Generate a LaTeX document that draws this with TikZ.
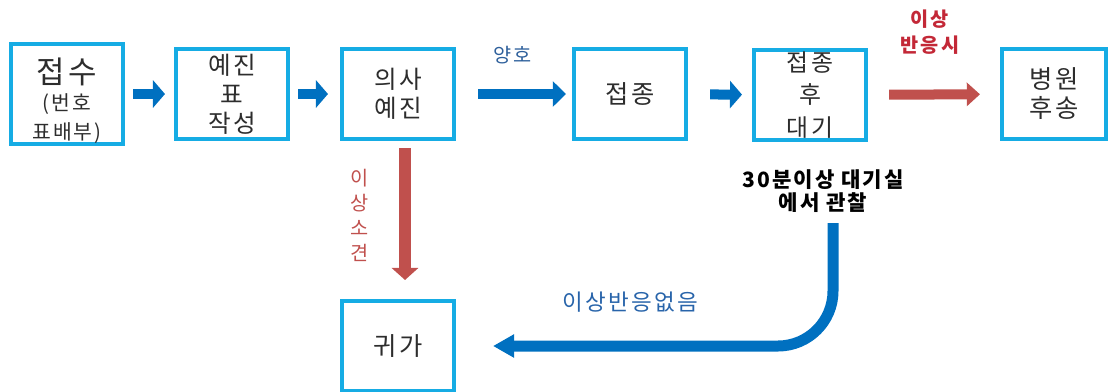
\documentclass[tikz,border=0pt]{standalone}
\usepackage{fontspec}
\setmainfont{Noto Sans CJK KR}
\newfontfamily\boxfont[LetterSpace=10]{Noto Sans CJK KR}
\newfontfamily\lblfont[LetterSpace=10]{Noto Sans CJK KR}
\usetikzlibrary{arrows.meta}
\definecolor{boxblue}{RGB}{22,172,228}
\definecolor{flowblue}{RGB}{0,112,192}
\definecolor{flowred}{RGB}{192,80,77}
\definecolor{okblue}{RGB}{45,95,155}
\definecolor{alertred}{RGB}{195,40,55}
\definecolor{noneblue}{RGB}{40,100,170}
\definecolor{boxtext}{RGB}{45,45,45}
\newcommand{\smalltxt}{\fontsize{14.5}{17}\selectfont}

\begin{document}
\begin{tikzpicture}[x=0.025cm,y=-0.025cm]
\tikzstyle{stage}=[draw=boxblue,line width=0.1cm,minimum width=2.8cm,minimum height=2.25cm,inner sep=0pt,align=center,text=boxtext,font=\boxfont\fontsize{17.5}{20.5}\selectfont]
\tikzstyle{flow}=[line width=0.25cm,-{Triangle[length=0.3cm,width=0.675cm]}]
\tikzstyle{lbl}=[inner sep=0pt,align=center]
\useasboundingbox (0,0) rectangle (1110,391);

\node[stage] (recv) at (67,94) {\rule{0pt}{28pt}\fontsize{22}{24}\selectfont 접수\\[-1pt]
  \smalltxt (번호\\\smalltxt 표배부)};
\node[stage] (form) at (232,94) {예진\\표\\작성};
\node[stage] (exam) at (398,94) {의사\\예진};
\node[stage,font=\boxfont\fontsize{18}{20}\selectfont] (shot) at (630,94) {접종};
\node[stage,font=\boxfont\fontsize{17}{23}\selectfont] (wait) at (810,95) {접종\\후\\대기};
\node[stage,minimum width=2.6cm,font=\boxfont\fontsize{18}{20.6}\selectfont] (hosp) at (1054,94) {병원\\후송};
\node[stage,font=\boxfont\fontsize{18}{20}\selectfont] (home) at (398,346) {귀가};

\draw[flow,flowblue,shorten <=0.2cm,shorten >=0.225cm] (recv) -- (form);
\draw[flow,flowblue,shorten <=0.2cm,shorten >=0.3cm] (form) -- (exam);
\draw[flow,flowblue,-{Triangle[length=0.33cm,width=0.625cm]},shorten <=0.55cm,shorten >=0.15cm] (exam) -- (shot);
\draw[flow,flowblue,shorten <=0.55cm,shorten >=0.25cm] (shot) -- (wait);
\draw[flow,flowred,-{Triangle[length=0.33cm,width=0.575cm]},shorten <=0.525cm,shorten >=0.5cm] (wait) -- (hosp);
\draw[flow,flowred,line width=0.3cm,-{Triangle[length=0.3cm,width=0.65cm]},shorten <=0.175cm,shorten >=0.475cm]
  ([xshift=0.175cm]exam.south) -- ([xshift=0.175cm]home.north);

\node[lbl,text=okblue,font=\lblfont\fontsize{14}{16}\selectfont] (ok) at (513,55) {양호};
\node[lbl,text=alertred,font=\lblfont\bfseries\fontsize{14}{18}\selectfont] (react) at (930,32) {이상\\반응시};
\node[lbl,text=flowred,font=\lblfont\fontsize{14}{17.8}\selectfont] (abn) at (360,215) {이\\상\\소\\견};
\node[lbl,font=\lblfont\bfseries\fontsize{15}{16.5}\selectfont] (obs) at (823,191) {30분이상 대기실\\에서 관찰};
\node[lbl,text=noneblue,font=\lblfont\fontsize{16}{18}\selectfont] (noreact) at (630,302) {이상반응없음};

\coordinate (drop) at (833,223);
\draw[flow,flowblue,line width=0.275cm,-{Triangle[length=0.525cm,width=0.55cm]},rounded corners=1.375cm,shorten >=0.925cm]
  (drop) |- (home.east);
\end{tikzpicture}
\end{document}
